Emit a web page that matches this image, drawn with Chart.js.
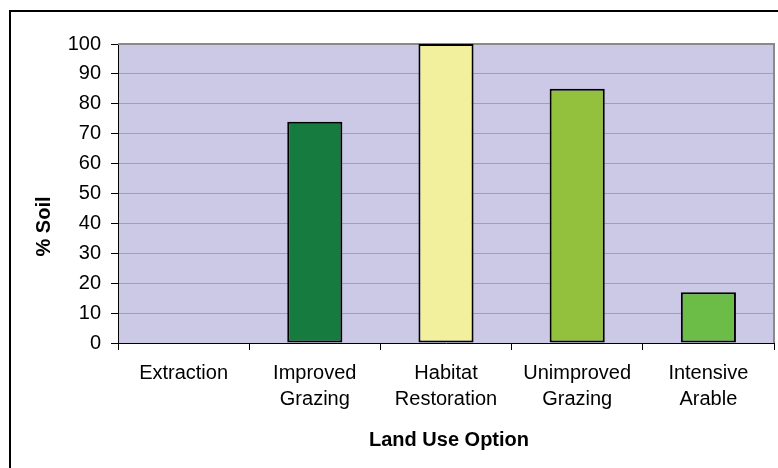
<!DOCTYPE html>
<html lang="en">
<head>
    <meta charset="UTF-8">
    <title>% Soil by Land Use Option</title>
    <script src="https://cdn.jsdelivr.net/npm/chart.js"></script>
    <style>
        html, body { margin: 0; padding: 0; background: #fff; overflow: hidden; }
        .chart-frame { position: absolute; left: 9px; top: 10px; width: 800px; height: 500px; border: 2px solid #000; }
        #soilChart { position: absolute; left: 0; top: 0; }
    </style>
</head>
<body>
    <div class="chart-frame"></div>
    <canvas id="soilChart" width="778" height="468"></canvas>
    <script>
    const categories = [
        ['Extraction'],
        ['Improved', 'Grazing'],
        ['Habitat', 'Restoration'],
        ['Unimproved', 'Grazing'],
        ['Intensive', 'Arable']
    ];
    const soilPercent = [0, 74, 100, 85, 17];
    const barColors = ['#7a7a7a', '#167b3e', '#f2f09c', '#93c13e', '#6cbd47'];
    const yTicks = [0, 10, 20, 30, 40, 50, 60, 70, 80, 90, 100];
    const xTitle = 'Land Use Option';
    const yTitle = '% Soil';

    const FONT = '"Liberation Sans", Arial, sans-serif';
    Chart.defaults.font.family = FONT;
    Chart.defaults.font.size = 20;
    Chart.defaults.color = '#000';

    // lavender plot area with a grey frame, drawn under the bars
    const plotArea = {
        id: 'plotArea',
        beforeDraw(chart) {
            const a = chart.chartArea, ctx = chart.ctx;
            ctx.save();
            ctx.fillStyle = '#cbc9e5';
            ctx.fillRect(a.left, a.top, a.right - a.left, a.bottom - a.top);
            ctx.restore();
        },
        beforeDatasetsDraw(chart) {
            const a = chart.chartArea, ctx = chart.ctx;
            ctx.save();
            ctx.strokeStyle = '#8a8a8a';
            ctx.lineWidth = 2;
            ctx.beginPath();
            ctx.moveTo(a.left, a.top);
            ctx.lineTo(a.right, a.top);
            ctx.lineTo(a.right, a.bottom);
            ctx.stroke();
            ctx.restore();
        }
    };

    // axis titles, the y one sits a little below the plot centre
    const axisTitles = {
        id: 'axisTitles',
        afterDraw(chart) {
            const a = chart.chartArea, ctx = chart.ctx;
            ctx.save();
            ctx.fillStyle = '#000';
            ctx.font = 'bold 20px ' + FONT;
            ctx.textAlign = 'center';
            ctx.textBaseline = 'middle';
            ctx.fillText(xTitle, (a.left + a.right) / 2 + 3, a.bottom + 97);
            ctx.translate(a.left - 74, (a.top + a.bottom) / 2 + 33);
            ctx.rotate(-Math.PI / 2);
            ctx.fillText(yTitle, 0, 0);
            ctx.restore();
        }
    };

    new Chart(document.getElementById('soilChart').getContext('2d'), {
        type: 'bar',
        data: {
            labels: categories,
            datasets: [{
                data: soilPercent,
                backgroundColor: barColors,
                borderColor: '#000',
                borderWidth: 2,
                borderSkipped: false,
                barPercentage: 0.42,
                categoryPercentage: 1
            }]
        },
        options: {
            responsive: false,
            animation: false,
            layout: { padding: { left: 0, right: 4, top: 44, bottom: 0 } },
            plugins: {
                legend: { display: false },
                tooltip: { enabled: false }
            },
            scales: {
                x: {
                    offset: true,
                    grid: { offset: true, color: 'transparent', tickColor: '#000', tickLength: 7, drawOnChartArea: false },
                    border: { color: '#000', width: 1 },
                    ticks: { maxRotation: 0, autoSkip: false, padding: 10, font: { size: 20, lineHeight: 1.3 } },
                    afterFit(scale) { scale.height = 125; }
                },
                y: {
                    min: 0,
                    max: 100,
                    afterBuildTicks(scale) { scale.ticks = yTicks.map(v => ({ value: v })); },
                    grid: { color: '#9e9bd2', tickColor: '#000', tickLength: 7 },
                    border: { color: '#000', width: 1 },
                    ticks: { padding: 10, font: { size: 20 } },
                    afterFit(scale) { scale.width = 118; }
                }
            }
        },
        plugins: [plotArea, axisTitles]
    });
    </script>
</body>
</html>
